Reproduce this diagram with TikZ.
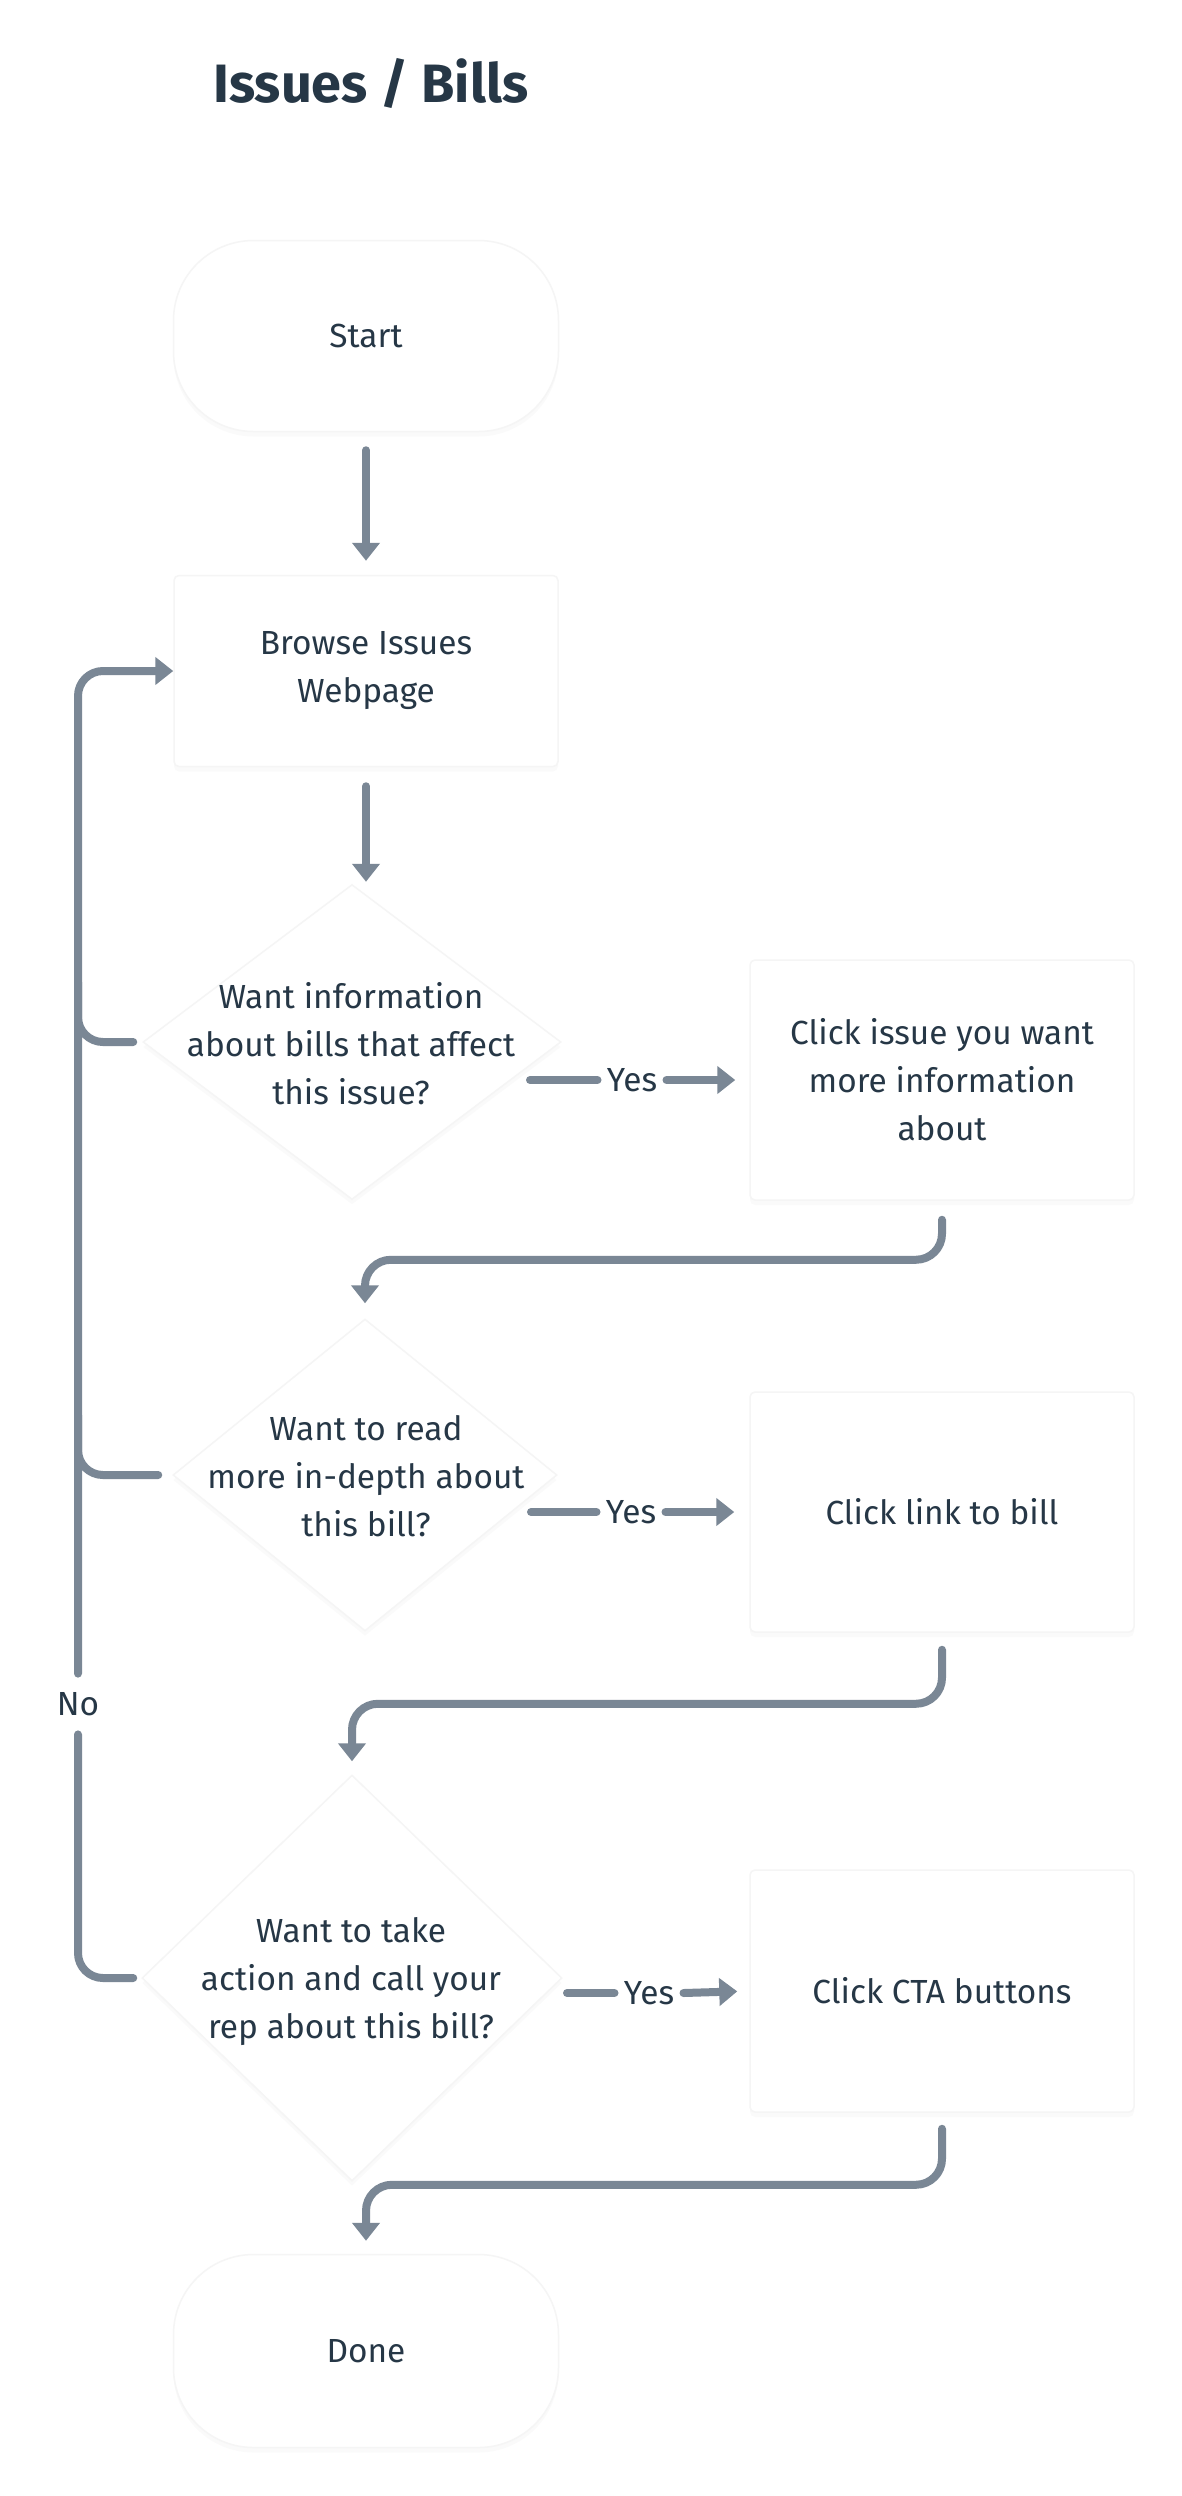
\documentclass[tikz,border=0pt]{standalone}
\usepackage{fontspec}
\setmainfont{Fira Sans}
\usetikzlibrary{arrows.meta,shapes.geometric,calc,shadows}
\definecolor{linec}{HTML}{7A8795}
\definecolor{textc}{HTML}{263746}
\definecolor{edgec}{HTML}{F5F5F5}
\begin{document}
\begin{tikzpicture}[x=0.5pt,y=-0.5pt,
  shapebase/.style={fill=white, draw=edgec, line width=0.75pt,
    drop shadow={opacity=0.035, shadow xshift=0pt, shadow yshift=-2.5pt}},
  term/.style={shapebase, rectangle, rounded corners=40pt, minimum width=192.5pt, minimum height=95.5pt},
  proc/.style={shapebase, rectangle, rounded corners=2.5pt, minimum width=192pt, minimum height=120pt},
  decision/.style={shapebase, diamond, inner sep=0pt},
  txt/.style={align=center, text=textc, font=\fontsize{16.7pt}{24pt}\selectfont},
  lbl/.style={txt, inner xsep=4.5pt, inner ysep=0pt},
  conn/.style={draw=linec, line width=4pt, line cap=round, line join=round},
  arr/.style={-{Triangle[length=9pt,width=13.5pt]}}
]
\fill[white] (0,0) rectangle (1182,2496);
\useasboundingbox (0,0) rectangle (1182,2496);

% title
\node[txt, inner sep=0pt, anchor=base west, font=\fontsize{27pt}{32pt}\selectfont\bfseries] (title) at (213,102) {Issues / Bills};

% shapes
\node[term, txt] (start) at (366,336) {Start};
\node[proc, txt, minimum height=95.5pt] (browse) at (366,671) {Browse Issues\\Webpage};
\node[decision, minimum width=209pt, minimum height=157.5pt] (d1) at (352,1042) {};
\node[txt] (d1t) at (351,1044) {Want information\\about bills that affect\\this issue?};
\node[proc, txt] (c1) at (942,1080) {Click issue you want\\more information\\about};
\node[decision, minimum width=192pt, minimum height=156pt] (d2) at (365,1475) {};
\node[txt] (d2t) at (366,1476) {Want to read\\more in-depth about\\this bill?};
\node[proc, txt] (c2) at (942,1512) {Click link to bill};
\node[decision, minimum width=210pt, minimum height=203pt] (d3) at (352,1978) {};
\node[txt] (d3t) at (351,1982) {Want to take\\action and call your\\rep about this bill?};
\node[proc, txt, minimum height=121pt] (c3) at (942,1991) {Click CTA buttons};
\node[term, txt, minimum height=96.5pt] (done) at (366,2351) {Done};

% labels
\node[lbl] (yes1) at (632,1080) {Yes};
\node[lbl] (yes2) at (631,1512) {Yes};
\node[lbl] (yes3) at (649,1993) {Yes};
\node[txt, inner sep=0pt, minimum height=30pt] (no) at (78,1704) {No};

\coordinate (y1s) at (530,1080);
\coordinate (y2s) at (531,1512);
\coordinate (y3s) at (567,1993);

% main flow
\draw[conn, arr, shorten <=9pt, shorten >=7pt] (start) -- (browse);
\draw[conn, arr, shorten <=9.5pt, shorten >=1pt] (browse.south) -- (browse.south |- d1.north);

\draw[conn] (y1s) -- (yes1.west);
\draw[conn, arr, shorten >=7pt] (yes1.east) -- (c1.west);
\draw[conn, arr, rounded corners=13pt, shorten <=9.5pt, shorten >=7.5pt] (c1.south) -- ++(0,59) -| (d2.north);

\draw[conn] (y2s) -- (yes2.west);
\draw[conn, arr, shorten >=7.5pt] (yes2.east) -- (c2.west);
\draw[conn, arr, rounded corners=13pt, shorten <=8.5pt, shorten >=6.5pt] (c2.south) -- ++(0,71) -| (d3.north);

\draw[conn] (y3s) -- (yes3.west);
\draw[conn, arr, shorten >=6pt] (yes3.east) -- (c3.west);
\draw[conn, arr, rounded corners=13pt, shorten <=8pt, shorten >=6.5pt] (c3.south) -- ++(0,72) -| (done.north);

% "No" loop
\draw[conn, rounded corners=12.5pt, shorten <=4pt] (d3.west) -| (no.south);
\draw[conn, arr, rounded corners=12.5pt] (no.north) |- (browse.west);
\draw[conn, rounded corners=12.5pt, shorten <=4.5pt] (d1.west) -| ($(no.north |- d1.west)+(0,-60)$);
\draw[conn, rounded corners=12.5pt, shorten <=7pt] (d2.west) -| ($(no.north |- d2.west)+(0,-60)$);
\end{tikzpicture}
\end{document}
